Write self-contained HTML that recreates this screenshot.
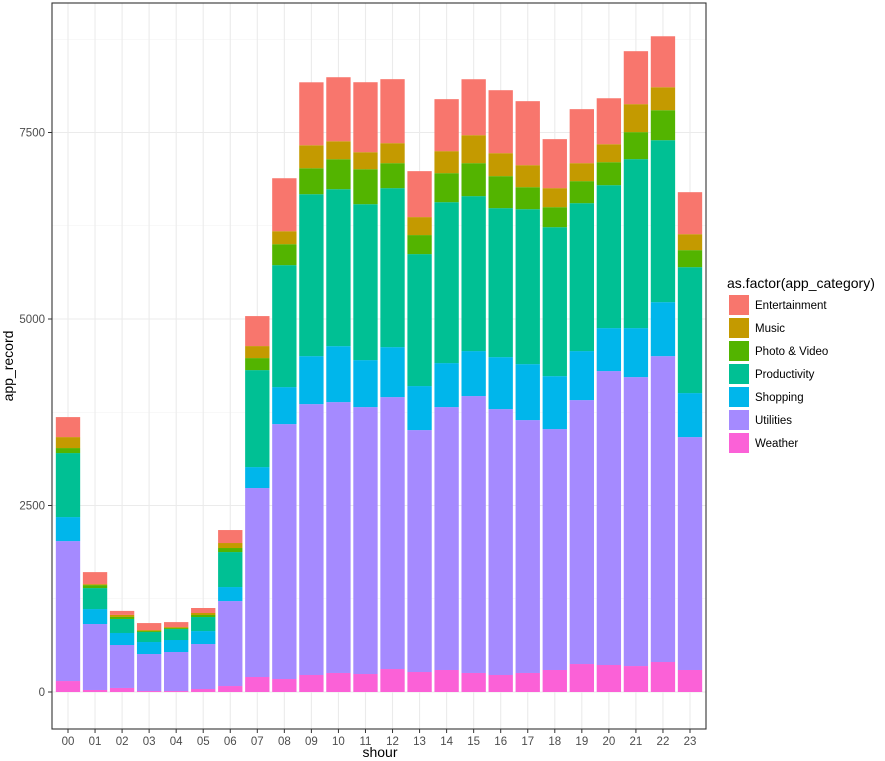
<!DOCTYPE html>
<html><head><meta charset="utf-8"><style>
body{margin:0;background:#fff;}
svg{display:block;font-family:"Liberation Sans",Arial,sans-serif;}
</style></head><body>
<svg id="chart" width="885" height="761"></svg>
<script>
const hours=["00","01","02","03","04","05","06","07","08","09","10","11","12","13","14","15","16","17","18","19","20","21","22","23"];
const categories=["Weather","Utilities","Shopping","Productivity","Photo & Video","Music","Entertainment"];
const legendOrder=["Entertainment","Music","Photo & Video","Productivity","Shopping","Utilities","Weather"];
const colors={"Entertainment":"#F8766D","Music":"#C49A00","Photo & Video":"#53B400","Productivity":"#00C094","Shopping":"#00B6EB","Utilities":"#A58AFF","Weather":"#FB61D7"};
const weather=[147,27,54,13,13,40,80,201,174,228,255,241,308,268,295,255,228,255,295,375,362,348,402,295];
const utilities=[1876,884,576,496,523,603,1139,2533,3417,3631,3631,3578,3645,3243,3524,3712,3564,3390,3229,3538,3940,3873,4100,3122];
const shopping=[322,201,161,161,161,174,188,281,496,643,750,630,670,590,590,603,697,750,710,657,576,657,724,590];
const productivity=[858,281,188,134,147,188,469,1300,1635,2171,2104,2090,2131,1769,2157,2077,1997,2077,1997,1983,1916,2265,2171,1688];
const photoVideo=[67,40,27,13,13,27,54,161,281,348,402,469,335,255,389,442,429,295,268,295,308,362,402,228];
const music=[147,13,27,13,13,27,67,161,174,308,241,228,268,241,295,375,308,295,255,241,241,375,308,214];
const entertainment=[268,161,54,94,67,67,174,402,710,844,858,938,858,616,697,750,844,858,657,724,616,710,683,563];
const yTicks=[0,2500,5000,7500];
const series=[weather,utilities,shopping,productivity,photoVideo,music,entertainment];

const NS="http://www.w3.org/2000/svg";
const svg=document.getElementById("chart");
function mk(tag,attrs,parent){const e=document.createElementNS(NS,tag);for(const k in attrs)e.setAttribute(k,attrs[k]);(parent||svg).appendChild(e);return e;}
const L=52,R=706,T=3,B=729;
const y=v=>692-v*0.0746;
const step=(690-68)/23;
const x=i=>68+i*step;
const bw=step*0.9;

mk("rect",{x:L,y:T,width:R-L,height:B-T,fill:"#fff"});
// minor grid
for(let v=1250;v<9000;v+=2500){const l=mk("line",{x1:L,x2:R,y1:y(v),y2:y(v),stroke:"#f2f2f2","stroke-width":0.6});

}
yTicks.forEach(v=>{const l=mk("line",{x1:L,x2:R,y1:y(v),y2:y(v),stroke:"#ebebeb","stroke-width":1.1});

});
hours.forEach((h,i)=>{const l=mk("line",{x1:x(i),x2:x(i),y1:T,y2:B,stroke:"#ebebeb","stroke-width":1.1});

});

// bars
hours.forEach((h,i)=>{
  let cum=0;
  series.forEach((s,k)=>{
    const v=s[i];
    const r=mk("rect",{x:x(i)-bw/2,y:y(cum+v),width:bw,height:Math.max(0,y(cum)-y(cum+v)),fill:colors[categories[k]]});
    
    
    cum+=v;
  });
});
mk("rect",{x:L,y:T,width:R-L,height:B-T,fill:"none",stroke:"#333","stroke-width":1.1});

// y axis
yTicks.forEach(v=>{
  mk("line",{x1:L-4,x2:L,y1:y(v),y2:y(v),stroke:"#333"});
  const t=mk("text",{x:L-7,y:y(v)+4,"text-anchor":"end","font-size":11.5,fill:"#4d4d4d"});
  t.textContent=v;
  
  
});
hours.forEach((h,i)=>{
  mk("line",{x1:x(i),x2:x(i),y1:B,y2:B+4,stroke:"#333"});
  const t=mk("text",{x:x(i),y:B+16,"text-anchor":"middle","font-size":11.5,fill:"#4d4d4d"});
  t.textContent=h;
  
  
});
let t=mk("text",{x:380,y:761-4,"text-anchor":"middle","font-size":14,fill:"#000"});t.textContent="shour";


t=mk("text",{x:0,y:0,"text-anchor":"middle","font-size":14,fill:"#000",transform:"translate(13,366) rotate(-90)"});t.textContent="app_record";



// legend
t=mk("text",{x:727,y:288,"font-size":14,fill:"#000"});t.textContent="as.factor(app_category)";


legendOrder.forEach((c,j)=>{
  const cy=305+j*23;
  const g=mk("g",{});
  
  
  mk("rect",{x:728,y:cy-11,width:22,height:22,fill:"#fff"},g);
  mk("rect",{x:729,y:cy-10,width:20,height:20,fill:colors[c]},g);
  const tt=mk("text",{x:755,y:cy+4,"font-size":11.5,fill:"#000"},g);tt.textContent=c;
});
</script>
</body></html>
